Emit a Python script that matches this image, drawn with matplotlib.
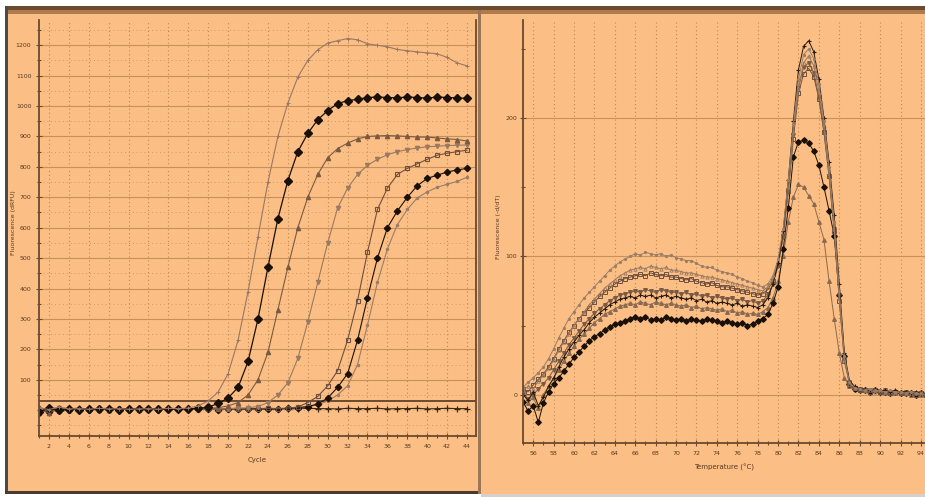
import numpy as np
import matplotlib.pyplot as plt
from matplotlib.patches import Rectangle

# ---- amplification data (left panel) ----
cycles = list(range(1, 45))
amp_a = [8, 2, 10, 4, 5, 3, 6, 4, 5, 3,
         4, 5, 3, 6, 5, 7, 14, 30, 60, 120,
         230, 390, 570, 750, 900, 1010, 1095, 1150, 1185, 1207,
         1215, 1222, 1218, 1205, 1200, 1195, 1186, 1182, 1178, 1175,
         1172, 1160, 1142, 1132]
amp_b = [-5, 6, 0, 5, 2, 4, 3, 5, 2, 4,
         3, 5, 4, 3, 5, 4, 6, 10, 22, 40,
         75, 160, 300, 470, 630, 755, 850, 910, 955, 985,
         1008, 1018, 1022, 1028, 1030, 1028, 1027, 1030, 1028, 1026,
         1030, 1028, 1027, 1025]
amp_c = [0, -8, 4, 2, 5, 3, 4, 2, 5, 3,
         4, 3, 5, 4, 3, 5, 4, 6, 8, 14,
         25, 50, 100, 190, 330, 470, 600, 700, 775, 830,
         860, 878, 892, 900, 902, 903, 902, 900, 898, 898,
         895, 892, 890, 885]
amp_d = [3, 0, 6, 2, 4, 3, 5, 2, 4, 3,
         5, 3, 4, 5, 3, 4, 5, 3, 4, 5,
         6, 8, 12, 25, 50, 90, 170, 290, 420, 550,
         665, 730, 775, 805, 825, 840, 850, 857, 862, 866,
         868, 870, 871, 872]
amp_e = [-10, 4, -4, 2, 3, 5, 2, 4, 3, 5,
         2, 4, 3, 5, 4, 3, 5, 4, 3, 4,
         5, 3, 4, 6, 5, 7, 10, 25, 45, 80,
         130, 230, 360, 520, 660, 730, 775, 795, 810, 825,
         838, 845, 850, 855]
amp_f = [4, -6, 3, 0, 4, 2, 5, 3, 4, 2,
         3, 5, 2, 4, 3, 5, 3, 4, 2, 5,
         3, 4, 5, 3, 4, 6, 8, 12, 20, 40,
         75, 120, 230, 370, 500, 600, 655, 700, 738, 762,
         773, 783, 790, 795]
amp_g = [-12, 3, -6, 1, 4, 2, 3, 5, 2, 4,
         3, 2, 4, 5, 3, 4, 2, 3, 5, 4,
         3, 5, 4, 3, 5, 4, 6, 10, 18, 30,
         50, 80, 150, 280, 420, 530, 610, 660, 698, 718,
         733, 743, 752, 766]
amp_ntc = [6, 4, 7, 5, 6, 4, 5, 6, 5, 4,
           6, 5, 4, 6, 5, 5, 4, 6, 5, 5,
           6, 4, 5, 6, 5, 4, 5, 6, 5, 5,
           4, 6, 5, 5, 6, 4, 5, 5, 6, 4,
           5, 6, 5, 5]
threshold = 30

# ---- melt data (right panel), 55.0 .. 95.0 every 0.5 C ----
temps = list(np.arange(55.0, 95.01, 0.5))
melt_1 = [5, 9, 12, 16, 20, 26, 33, 41, 48, 55,
          60, 65, 70, 74, 78, 82, 86, 90, 93, 96,
          98, 100, 102, 101, 103, 102, 101, 102, 100, 101,
          99, 98, 97, 97, 95, 93, 92, 92, 90, 89,
          88, 87, 85, 84, 82, 81, 79, 78, 80, 86,
          98, 120, 155, 195, 228, 246, 250, 243, 225, 198,
          165, 125, 75, 28, 9, 5, 4, 3, 4, 3,
          3, 2, 3, 2, 2, 1, 2, 1, 1, 0, 0]
melt_2 = [0, -4, 2, -8, -2, 6, 12, 20, 27, 33,
          38, 43, 47, 52, 56, 59, 62, 65, 67, 69,
          70, 71, 70, 72, 71, 72, 70, 71, 72, 70,
          71, 70, 69, 70, 68, 69, 67, 68, 66, 67,
          66, 65, 66, 64, 65, 64, 63, 65, 70, 80,
          95, 118, 155, 198, 235, 252, 256, 248, 228, 200,
          168, 130, 80, 30, 10, 6, 4, 4, 3, 4,
          3, 3, 2, 3, 2, 2, 1, 2, 1, 1, 1]
melt_3 = [3, 6, 4, 10, 14, 19, 25, 32, 38, 44,
          50, 55, 60, 65, 69, 73, 77, 80, 83, 86,
          88, 90, 91, 92, 91, 93, 92, 91, 92, 90,
          90, 89, 88, 88, 87, 86, 85, 85, 84, 83,
          82, 81, 80, 79, 78, 77, 76, 75, 78, 84,
          96, 118, 150, 190, 222, 240, 245, 238, 220, 194,
          160, 120, 70, 25, 8, 5, 4, 3, 3, 2,
          3, 2, 2, 1, 2, 1, 1, 1, 0, 1, 0]
melt_4 = [1, -3, 0, 4, 8, 12, 18, 24, 30, 36,
          41, 46, 51, 55, 59, 62, 65, 68, 70, 72,
          73, 74, 75, 74, 76, 75, 74, 76, 75, 74,
          74, 73, 74, 72, 73, 71, 72, 70, 71, 70,
          69, 70, 68, 69, 67, 68, 66, 68, 72, 80,
          93, 114, 148, 188, 222, 237, 240, 233, 215, 190,
          158, 120, 72, 26, 9, 5, 4, 3, 3, 3,
          2, 3, 2, 2, 1, 2, 1, 1, 1, 0, 0]
melt_5 = [4, 2, 7, 11, 15, 20, 26, 33, 39, 45,
          50, 55, 59, 63, 67, 71, 74, 77, 80, 82,
          84, 85, 86, 87, 86, 88, 87, 86, 87, 85,
          85, 84, 83, 84, 82, 81, 80, 81, 79, 78,
          78, 77, 76, 75, 74, 73, 72, 73, 76, 82,
          94, 115, 147, 185, 218, 232, 236, 230, 214, 190,
          158, 118, 68, 24, 8, 5, 3, 3, 2, 3,
          2, 2, 1, 2, 1, 1, 1, 0, 1, 0, 0]
melt_6 = [-5, -12, -8, -20, -6, 2, 8, 12, 17, 22,
          27, 31, 35, 39, 42, 44, 47, 49, 51, 52,
          53, 55, 56, 55, 56, 54, 55, 54, 56, 55,
          54, 55, 53, 55, 54, 53, 55, 54, 53, 52,
          53, 52, 51, 52, 50, 51, 53, 55, 58, 66,
          78, 105, 135, 172, 183, 184, 182, 176, 166, 150,
          133, 115, 72, 28, 8, 4, 3, 3, 2, 3,
          2, 2, 1, 2, 1, 1, 1, 0, 1, 0, 0]
melt_7 = [2, -6, -2, -10, 0, 6, 12, 18, 24, 30,
          35, 40, 44, 48, 52, 55, 58, 60, 62, 64,
          65, 66, 65, 67, 66, 65, 67, 66, 65, 66,
          65, 64, 65, 63, 64, 62, 63, 62, 61, 62,
          60, 61, 59, 60, 58, 59, 58, 60, 63, 70,
          82, 100, 125, 143, 152, 150, 144, 138, 125, 112,
          82, 55, 30, 12, 6, 4, 3, 3, 2, 3,
          2, 2, 1, 1, 1, 1, 0, 1, 0, 0, 0]

W, H = 925, 497
bg = '#fbbe84'
dark = '#5a3a22'

fig = plt.figure(figsize=(W / 100, H / 100), dpi=100)
fig.patch.set_facecolor('white')


def px_rect(x0, y0, x1, y1, color, z=0):
    fig.add_artist(Rectangle((x0 / W, 1 - y1 / H), (x1 - x0) / W, (y1 - y0) / H,
                             transform=fig.transFigure, facecolor=color,
                             edgecolor='none', zorder=z))


# panel backgrounds and frame bits
px_rect(5, 14, 479, 493, bg)
px_rect(481, 14, 925, 494, bg)
px_rect(5, 6, 925, 10, '#6e4a2e')
px_rect(5, 10, 925, 14, '#b07b4c')
px_rect(5, 6, 8, 494, '#4a4a4a')
px_rect(5, 491, 479, 494, '#4a3a30')
px_rect(478, 10, 481, 494, '#9a7556')
px_rect(481, 494, 925, 497, '#d8d0c8')


def style(ax):
    ax.set_facecolor('none')
    ax.spines['top'].set_visible(False)
    for s in ['left', 'bottom', 'right']:
        ax.spines[s].set_color('#6b4a30')
        ax.spines[s].set_linewidth(1.3)
    ax.tick_params(which='both', direction='inout', colors='#6b4a30',
                   labelcolor=dark, labelsize=4.5, width=0.8)
    ax.tick_params(which='major', length=4)
    ax.tick_params(which='minor', length=3)
    ax.grid(axis='y', which='major', color='#c8915c', lw=0.8, ls='-')
    ax.grid(axis='y', which='minor', color='#d09a66', lw=0.7, ls=(0, (1, 3)))
    ax.grid(axis='x', which='major', color='#c08a58', lw=0.8, ls=(0, (1, 2.5)))
    ax.set_axisbelow(True)


# ---- left: amplification ----
ax1 = fig.add_axes([39 / W, 1 - 436 / H, 437 / W, 416 / H])
style(ax1)
ax1.axhline(threshold, color='#6b4a30', lw=1.4, zorder=2)
ax1.plot(cycles, amp_ntc, color='#3a2616', lw=0.8, marker='+', ms=4, mew=0.9)
ax1.plot(cycles, amp_g, color='#9a7e68', lw=0.8, marker='.', ms=3)
ax1.plot(cycles, amp_f, color='#1a1008', lw=0.8, marker='D', ms=3.2)
ax1.plot(cycles, amp_e, color='#6e5040', lw=0.8, marker='s', ms=3.2, mfc='none', mew=0.8)
ax1.plot(cycles, amp_d, color='#9a7a60', lw=0.8, marker='v', ms=3)
ax1.plot(cycles, amp_c, color='#7a5a44', lw=0.8, marker='^', ms=3)
ax1.plot(cycles, amp_b, color='#1a1008', lw=0.9, marker='D', ms=3.6)
ax1.plot(cycles, amp_a, color='#9a7864', lw=0.8, marker='+', ms=3, mew=0.7)
ax1.set_xlim(1, 44.9)
ax1.set_ylim(-85, 1283)
ax1.set_xticks(range(2, 45, 2))
ax1.set_xticks(range(1, 45), minor=True)
ax1.set_yticks(range(100, 1201, 100))
ax1.set_yticks(range(-50, 1251, 50), minor=True)
ax1.set_xlabel('Cycle', fontsize=5, color=dark, labelpad=6)
fig.text(14 / W, 1 - 223 / H, 'Fluorescence (dRFU)', rotation=90,
         ha='center', va='center', fontsize=4.5, color=dark)

# ---- right: melt curves ----
ax2 = fig.add_axes([523 / W, 1 - 443 / H, 402 / W, 423 / H])
style(ax2)
ax2.spines['right'].set_visible(False)
ax2.tick_params(axis='y', pad=2)
ax2.plot(temps, melt_7, color='#8a6a50', lw=0.7, marker='^', ms=2.6)
ax2.plot(temps, melt_6, color='#1a1008', lw=0.7, marker='D', ms=2.8)
ax2.plot(temps, melt_5, color='#6e5040', lw=0.7, marker='s', ms=2.6, mfc='none', mew=0.7)
ax2.plot(temps, melt_4, color='#7a5a44', lw=0.7, marker='v', ms=2.6)
ax2.plot(temps, melt_3, color='#9a7a60', lw=0.7, marker='^', ms=2.4, mfc='none', mew=0.6)
ax2.plot(temps, melt_2, color='#2a1a0e', lw=0.7, marker='+', ms=3, mew=0.8)
ax2.plot(temps, melt_1, color='#9a7e68', lw=0.7, marker='.', ms=2.6)
ax2.set_xlim(55.13, 94.4)
ax2.set_ylim(-35, 271)
ax2.set_xticks(range(56, 95, 2))
ax2.set_xticks(range(55, 95), minor=True)
ax2.set_yticks([0, 100, 200])
ax2.set_yticks([50, 150, 250], minor=True)
ax2.grid(axis='y', which='minor', visible=False)
ax2.set_xlabel('Temperature (°C)', fontsize=5, color=dark, labelpad=6)
fig.text(498 / W, 1 - 227 / H, 'Fluorescence (-d/dT)', rotation=90,
         ha='center', va='center', fontsize=4.5, color=dark)

fig.savefig('out.png', dpi=100, facecolor=fig.get_facecolor())
